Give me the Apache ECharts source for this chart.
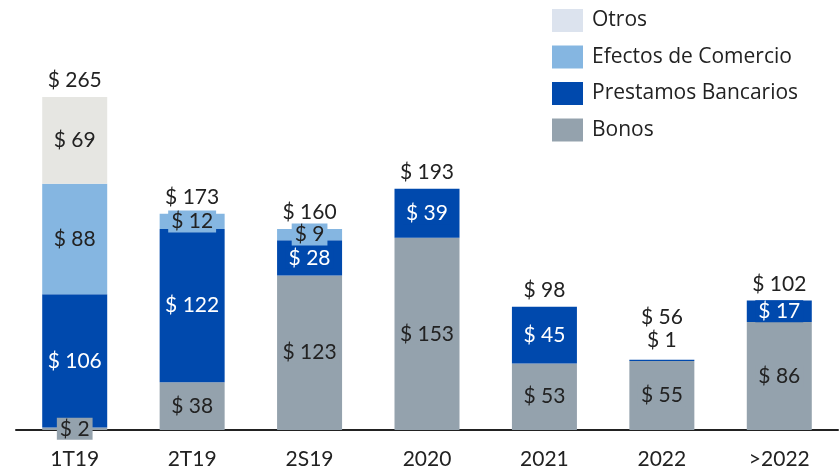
<!DOCTYPE html>
<html><head><meta charset="utf-8">
<script src="https://cdn.jsdelivr.net/npm/echarts@6/dist/echarts.min.js"></script>
<style>html,body{margin:0;padding:0;background:#fff}#c{width:840px;height:473px}</style>
</head><body><div id="c"></div>
<script>
var categories = ['1T19', '2T19', '2S19', '2020', '2021', '2022', '>2022'];
var bonos = [2, 38, 123, 153, 53, 55, 86];
var prestamos = [106, 122, 28, 39, 45, 1, 17];
var efectos = [88, 12, 9, null, null, null, null];
var otros = [69, null, null, null, null, null, null];
var totals = [265, 173, 160, 193, 98, 56, 102];

var FONT = 'Lato';
var colors = {
  Otros: '#e6e6e2', Efectos: '#85b6e1', Prestamos: '#0049ad', Bonos: '#94a2ad'
};

function seg(name, data, color, textColor) {
  return {
    name: name, type: 'bar', stack: 'a', barWidth: 65,
    data: data.map(function (v, i) {
      if (name === 'Prestamos Bancarios' && i === 5) {
        return { value: v, label: { position: 'top', distance: 9, backgroundColor: 'transparent', color: '#222' } };
      }
      return v;
    }),
    itemStyle: { color: color },
    label: {
      show: true, position: 'inside', color: textColor, fontFamily: FONT, fontSize: 21,
      backgroundColor: color, padding: [1, 3, 0, 3],
      formatter: function (p) { return p.value == null ? '' : '$ ' + p.value; }
    }
  };
}

var series = [
  seg('Bonos', bonos, colors.Bonos, '#222'),
  seg('Prestamos Bancarios', prestamos, colors.Prestamos, '#fff'),
  seg('Efectos de Comercio', efectos, colors.Efectos, '#222'),
  seg('Otros', otros, colors.Otros, '#222'),
  {
    name: 'Total', type: 'bar', stack: 'a', barWidth: 65,
    data: totals.map(function (t, i) {
      if (i === 5) return { value: 0, label: { distance: 32 } };
      return 0;
    }),
    itemStyle: { color: 'transparent' },
    label: {
      show: true, position: 'top', distance: 6, color: '#222', fontFamily: FONT, fontSize: 21,
      formatter: function (p) { return '$ ' + totals[p.dataIndex]; }
    }
  }
];

var chart = echarts.init(document.getElementById('c'));
chart.setOption({
  animation: false,
  grid: { left: 16, right: 2, top: 53, bottom: 43, containLabel: false },
  legend: {
    orient: 'vertical', left: 552, top: 9, padding: 0, itemWidth: 31, itemHeight: 23, itemGap: 13.5,
    icon: 'rect',
    textStyle: { fontFamily: 'Open Sans', fontSize: 21, color: '#222', padding: [0, 0, 0, 4] },
    data: [
      { name: 'Otros', itemStyle: { color: '#dce3ee' } },
      { name: 'Efectos de Comercio' },
      { name: 'Prestamos Bancarios' },
      { name: 'Bonos' }
    ]
  },
  xAxis: {
    type: 'category', data: categories,
    axisLine: { lineStyle: { color: '#222', width: 2 } },
    axisTick: { show: false },
    axisLabel: { color: '#222', fontFamily: FONT, fontSize: 21, margin: 19 }
  },
  yAxis: {
    type: 'value', min: 0, max: 300, show: false,
    splitLine: { show: false }
  },
  series: series
});
</script>
</body></html>
